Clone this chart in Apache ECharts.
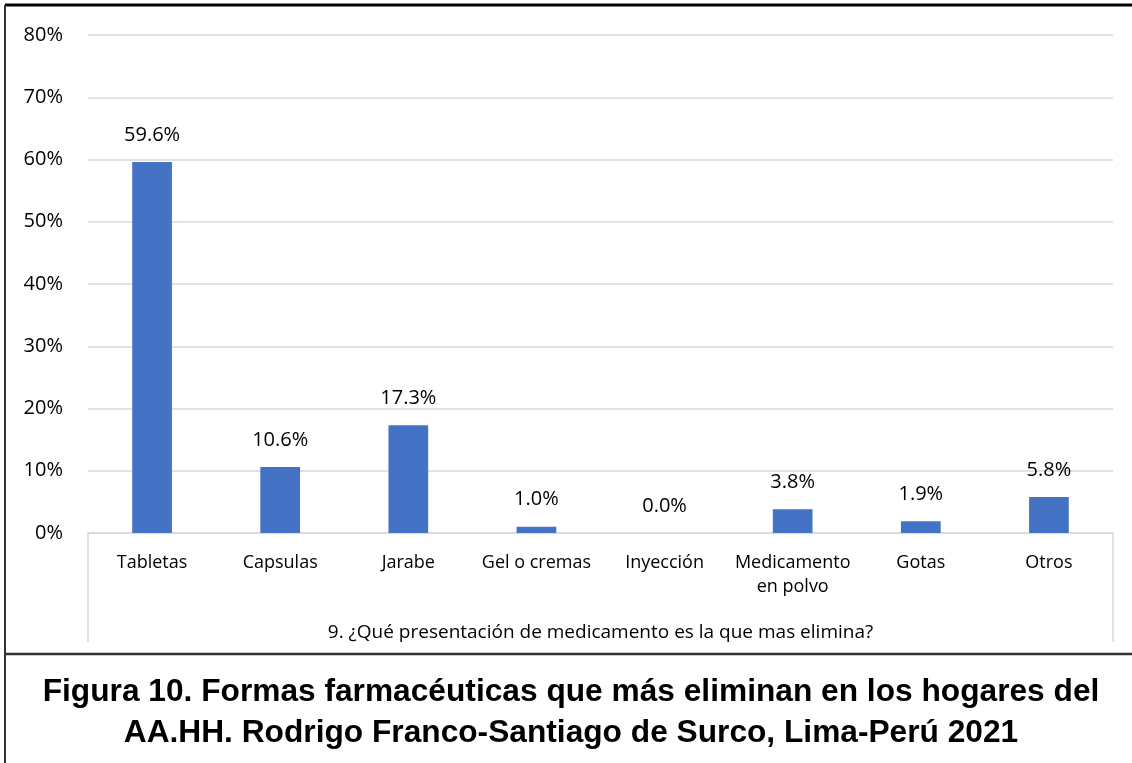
<!DOCTYPE html>
<html>
<head>
<meta charset="utf-8">
<script src="https://cdn.jsdelivr.net/npm/echarts@6/dist/echarts.min.js"></script>
<style>
  html, body { margin: 0; padding: 0; background: #fff; }
  #container { width: 1132px; height: 763px; }
</style>
</head>
<body>
<div id="container"></div>
<script>
// datos
var categorias = ['Tabletas', 'Capsulas', 'Jarabe', 'Gel o cremas', 'Inyección', 'Medicamento\nen polvo', 'Gotas', 'Otros'];
var porcentajes = [59.6, 10.6, 17.3, 1.0, 0.0, 3.8, 1.9, 5.8];
var ticksY = [0, 10, 20, 30, 40, 50, 60, 70, 80];

var dom = document.getElementById('container');
var myChart = echarts.init(dom);
var fuente = '"Open Sans", "Noto Sans", sans-serif';
var gris = '#d9d9d9';

var option = {
	animation: false,
	title: {
		text: 'Figura 10. Formas farmacéuticas que más eliminan en los hogares del\nAA.HH. Rodrigo Franco-Santiago de Surco, Lima-Perú 2021',
		left: 566,
		top: 667,
		textAlign: 'center',
		textStyle: {
			fontFamily: '"Liberation Sans", Arial, sans-serif',
			fontWeight: 'bold',
			fontSize: 31.7,
			lineHeight: 41,
			color: '#000'
		}
	},
	grid: { left: 88, right: 19, top: 35, bottom: 230 },
	xAxis: {
		type: 'category',
		data: categorias,
		name: '9. ¿Qué presentación de medicamento es la que mas elimina?',
		nameLocation: 'middle',
		nameGap: 90,
		nameTextStyle: { fontFamily: fuente, fontSize: 19, color: '#000' },
		axisLine: { lineStyle: { color: gris, width: 1.5 } },
		axisTick: { show: false },
		axisLabel: {
			interval: 0,
			margin: 18,
			fontFamily: fuente,
			fontSize: 18,
			lineHeight: 24,
			color: '#000'
		}
	},
	yAxis: {
		type: 'value',
		min: ticksY[0],
		max: ticksY[ticksY.length - 1],
		interval: 10,
		axisLabel: {
			formatter: '{value}%',
			margin: 25,
			fontFamily: fuente,
			fontSize: 20,
			color: '#000'
		},
		splitLine: { lineStyle: { color: gris, width: 1.5 } }
	},
	series: [{
		type: 'bar',
		data: porcentajes,
		barWidth: '31%',
		itemStyle: { color: '#4472C4' },
		label: {
			show: true,
			position: 'top',
			distance: 17,
			formatter: function (p) { return p.value.toFixed(1) + '%'; },
			fontFamily: fuente,
			fontSize: 20,
			color: '#000'
		}
	}],
	graphic: [
		// marco exterior y separador
		{ type: 'line', shape: { x1: 5, y1: 5, x2: 1132, y2: 5 }, style: { stroke: '#000', lineWidth: 3 } },
		{ type: 'line', shape: { x1: 5, y1: 5, x2: 5, y2: 763 }, style: { stroke: '#333', lineWidth: 2 } },
		{ type: 'line', shape: { x1: 5, y1: 654, x2: 1132, y2: 654 }, style: { stroke: '#333', lineWidth: 2.5 } },
		// caja del eje de categorias
		{ type: 'line', shape: { x1: 88, y1: 533, x2: 88, y2: 642 }, style: { stroke: gris, lineWidth: 1.5 } },
		{ type: 'line', shape: { x1: 1113, y1: 533, x2: 1113, y2: 642 }, style: { stroke: gris, lineWidth: 1.5 } }
	]
};

myChart.setOption(option);
</script>
</body>
</html>
